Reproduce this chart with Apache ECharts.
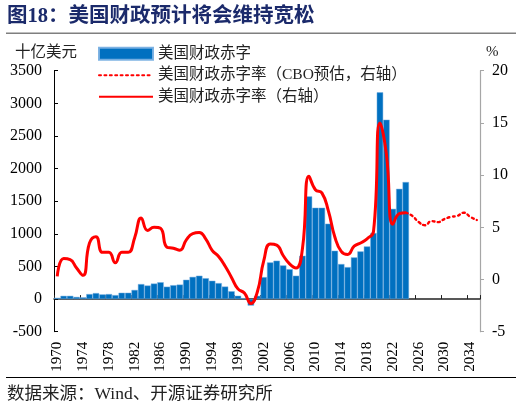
<!DOCTYPE html>
<html><head><meta charset="utf-8">
<script src="https://cdn.jsdelivr.net/npm/echarts@6/dist/echarts.min.js"></script>
<style>html,body{margin:0;padding:0;background:#fff}#c{width:522px;height:408px}</style>
</head><body><div id="c"></div>
<script>
const years = ['1970','1971','1972','1973','1974','1975','1976','1977','1978','1979',
  '1980','1981','1982','1983','1984','1985','1986','1987','1988','1989',
  '1990','1991','1992','1993','1994','1995','1996','1997','1998','1999',
  '2000','2001','2002','2003','2004','2005','2006','2007','2008','2009',
  '2010','2011','2012','2013','2014','2015','2016','2017','2018','2019',
  '2020','2021','2022','2023','2024','2025','2026','2027','2028','2029',
  '2030','2031','2032','2033','2034','2035'];
// 美国财政赤字（十亿美元），1970-2024
const deficitBn = [20,50,50,33,27,77,92,72,77,61,
  97,97,140,230,208,238,258,190,213,222,
  296,340,358,320,281,245,192,120,51,15,
  -100,50,337,562,588,516,458,358,664,1574,
  1400,1400,1155,741,537,490,639,731,807,1012,
  3168,2749,1383,1690,1794];
// 美国财政赤字率（%），1970-2024
const deficitPct = [0.3,2.0,1.9,1.1,0.4,3.5,4.1,2.6,2.6,1.6,
  2.6,2.6,4.0,5.9,4.7,5.0,4.9,3.1,3.0,2.8,
  3.8,4.4,4.5,3.9,2.8,2.2,1.3,0.2,-0.9,-1.3,
  -2.3,-1.2,1.8,3.4,3.3,2.3,1.5,1.1,3.0,9.9,
  8.6,8.3,6.6,4.1,2.7,2.4,3.2,3.5,3.9,4.6,
  15.0,12.0,5.3,6.3,6.4];
// CBO预估赤字率（%），2024-2035
const cboStartYear = '2024';
const cboPct = [6.4,6.1,5.5,5.2,5.6,5.5,5.8,6.0,6.1,6.4,6.0,5.7];
const leftTicks = {min:-500, max:3500, interval:500};
const rightTicks = {min:-5, max:20, interval:5};

const cboStart = years.indexOf(cboStartYear);
const cboData = years.map((y,i)=> i>=cboStart ? cboPct[i-cboStart] : null);

const SERIF = '"Liberation Serif","Noto Sans CJK SC",serif';
const chart = echarts.init(document.getElementById('c'), null, {renderer:'canvas'});
chart.setOption({
  animation:false,
  backgroundColor:'#fff',
  title:{text:'图18：美国财政预计将会维持宽松', left:7, top:6, padding:0,
    textStyle:{fontSize:20.5, fontWeight:'bold', color:'#1b2a6b', fontFamily:SERIF}},
  legend:{orient:'vertical', left:98, top:46, padding:0, itemWidth:54, itemHeight:12, itemGap:6,
    textStyle:{fontSize:15.5, lineHeight:15, color:'#222', fontFamily:SERIF},
    data:[
      {name:'美国财政赤字', icon:'rect'},
      {name:'美国财政赤字率（CBO预估，右轴）', itemStyle:{opacity:0}},
      {name:'美国财政赤字率（右轴）', itemStyle:{opacity:0}}
    ]},
  grid:{left:54, right:42, top:70.7, bottom:76.3, containLabel:false},
  xAxis:[
    {type:'category', data:years, position:'bottom', boundaryGap:true,
      axisLine:{show:false, onZero:false}, axisTick:{show:false},
      axisLabel:{interval:3, rotate:90, margin:10, fontSize:15, color:'#000', fontFamily:SERIF},
      splitLine:{show:false}},
    {type:'category', data:years, position:'bottom', boundaryGap:true,
      axisLine:{show:true, onZero:true, onZeroAxisIndex:0, lineStyle:{color:'#222', width:1.5}},
      axisTick:{show:true, interval:3, inside:true, length:4, lineStyle:{color:'#222', width:1}},
      axisLabel:{show:false}, splitLine:{show:false}}
  ],
  yAxis:[
    {type:'value', min:leftTicks.min, max:leftTicks.max, interval:leftTicks.interval, position:'left',
      axisLine:{show:true, lineStyle:{color:'#000', width:1}},
      axisTick:{show:true, inside:true, length:4, lineStyle:{color:'#000'}},
      axisLabel:{margin:12, fontSize:16, color:'#000', fontFamily:SERIF, formatter:(v)=>String(v)},
      splitLine:{show:false}},
    {type:'value', min:rightTicks.min, max:rightTicks.max, interval:rightTicks.interval, position:'right',
      axisLine:{show:true, lineStyle:{color:'#a6a6a6', width:1.2}},
      axisTick:{show:true, inside:false, length:4, lineStyle:{color:'#a6a6a6'}},
      axisLabel:{margin:12, fontSize:16, color:'#000', fontFamily:SERIF, formatter:(v)=>String(v)},
      splitLine:{show:false}}
  ],
  series:[
    {name:'美国财政赤字', type:'bar', xAxisIndex:0, yAxisIndex:0, data:deficitBn,
      barCategoryGap:'0%',
      itemStyle:{color:'#0070c0', borderColor:'rgba(120,175,225,0.95)', borderWidth:0.5}},
    {name:'美国财政赤字率（CBO预估，右轴）', type:'line', xAxisIndex:0, yAxisIndex:1, data:cboData,
      smooth:0.5, symbol:'none', showSymbol:false, connectNulls:false,
      lineStyle:{color:'#ff0000', width:2.4, type:[2,3.4], cap:'round'},
      itemStyle:{color:'#ff0000'}},
    {name:'美国财政赤字率（右轴）', type:'line', xAxisIndex:0, yAxisIndex:1, data:deficitPct,
      smooth:0.5, symbol:'none', showSymbol:false, z:5,
      lineStyle:{color:'#ff0000', width:3}, itemStyle:{color:'#ff0000'}}
  ],
  graphic:[
    {type:'line', shape:{x1:6, y1:33.3, x2:516, y2:33.3}, style:{stroke:'#7f7f7f', lineWidth:1.5}, silent:true},
    {type:'line', shape:{x1:6, y1:377.5, x2:516, y2:377.5}, style:{stroke:'#000', lineWidth:1}, silent:true},
    {type:'text', left:15, top:45, style:{text:'十亿美元', fontSize:15.5, fill:'#222', fontFamily:SERIF}},
    {type:'text', left:486, top:45, style:{text:'%', fontSize:15, fill:'#222', fontFamily:SERIF}},
    {type:'text', left:7, top:386, style:{text:'数据来源：Wind、开源证券研究所', fontSize:17.5, fill:'#222', fontFamily:SERIF}}
  ]
});
</script></body></html>
